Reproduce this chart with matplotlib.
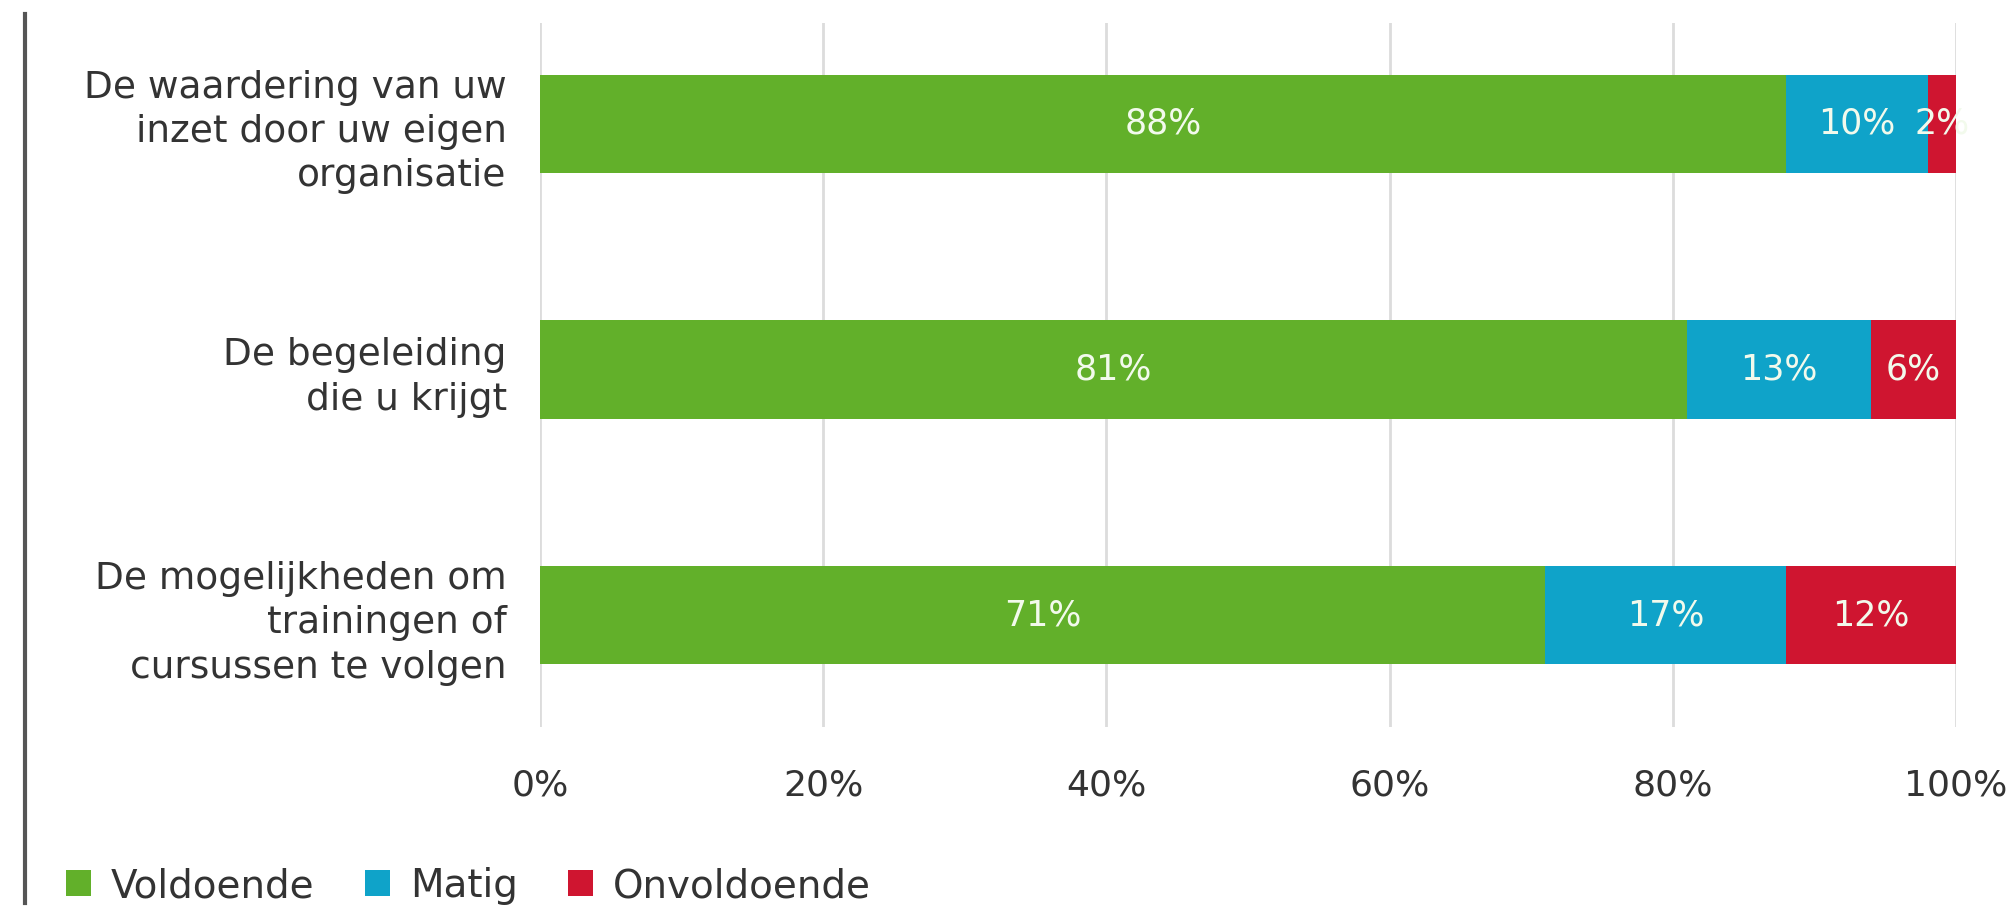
import matplotlib.pyplot as plt
from matplotlib.patches import Patch
from matplotlib.lines import Line2D

categories = [
    'De waardering van uw\ninzet door uw eigen\norganisatie',
    'De begeleiding\ndie u krijgt',
    'De mogelijkheden om\ntrainingen of\ncursussen te volgen',
]
voldoende = [88, 81, 71]
matig = [10, 13, 17]
onvoldoende = [2, 6, 12]
series_names = ['Voldoende', 'Matig', 'Onvoldoende']
colors = ['#62b02a', '#0fa3c9', '#cf1530']
xticks = [0, 20, 40, 60, 80, 100]

plt.rcParams['font.family'] = ['DejaVu Sans']

fig = plt.figure(figsize=(20.09, 9.08), dpi=100)
ax = fig.add_axes([540 / 2009, 1 - 727 / 908, 1416 / 2009, 704 / 908])

y = list(range(len(categories)))
left = [0] * len(categories)
for vals, col in zip([voldoende, matig, onvoldoende], colors):
    bars = ax.barh(y, vals, left=left, height=0.4, color=col, zorder=3)
    for b, v in zip(bars, vals):
        ax.text(b.get_x() + b.get_width() / 2, b.get_y() + b.get_height() / 2,
                f'{v}%', ha='center', va='center', color='#f2faec',
                fontsize=25, zorder=4)
    left = [l + v for l, v in zip(left, vals)]

ax.set_xlim(0, 100)
ax.set_ylim(2.455, -0.41)
ax.set_xticks(xticks)
ax.set_xticklabels([f'{t}%' for t in xticks], fontsize=26, color='#333333')
ax.set_yticks(y)
ax.set_yticklabels(categories, fontsize=27, color='#333333', linespacing=1.3)
ax.tick_params(axis='both', length=0)
ax.tick_params(axis='x', pad=30)
ax.tick_params(axis='y', pad=24)
ax.grid(axis='x', color='#dcdcdc', linewidth=2, zorder=0)
for s in ax.spines.values():
    s.set_visible(False)

# left vertical rule
fig.add_artist(Line2D([25 / 2009, 25 / 2009], [1 - 14 / 908, 1 - 903 / 908],
                      color='#555555', linewidth=3, transform=fig.transFigure))

handles = [Patch(facecolor=c, edgecolor='none') for c in colors]
fig.legend(handles, series_names, loc='center left',
           bbox_to_anchor=(66 / 2009, 1 - 886 / 908), ncol=3, frameon=False,
           fontsize=28, handlelength=0.65, handleheight=0.65, handletextpad=0.5,
           columnspacing=1.3, borderpad=0, borderaxespad=0,
           labelcolor='#333333')

fig.savefig('out.png', dpi=100)
